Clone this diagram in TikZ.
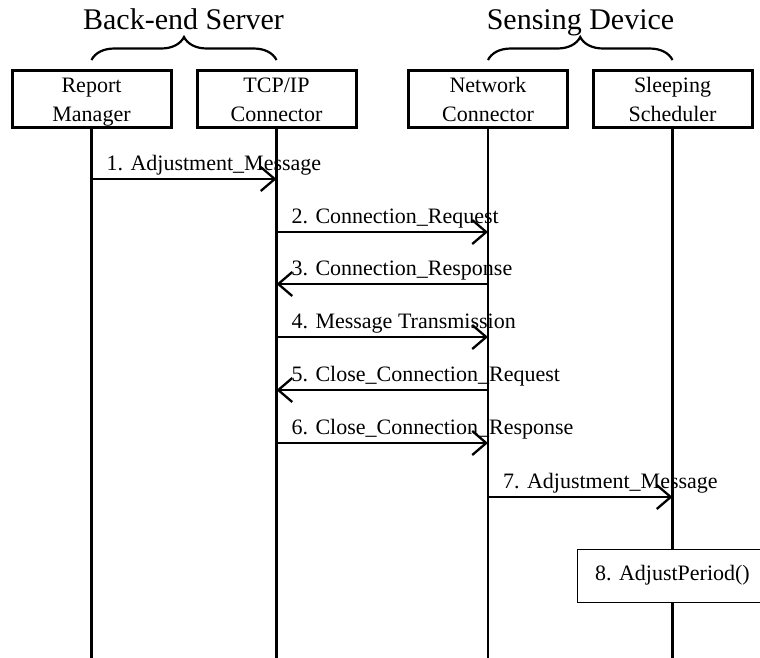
\documentclass[tikz,border=0pt]{standalone}
\usepackage{fontspec}
\setmainfont{Liberation Serif}
\usetikzlibrary{arrows.meta,decorations.pathreplacing,calc}
% fixed line box for the two-line participant names
\newcommand\namestrut{\rule[-6pt]{0pt}{28pt}}
\begin{document}
\begin{tikzpicture}[x=1pt,y=-1pt,
  role/.style={draw,line width=3pt,minimum width=159pt,minimum height=54pt,
    inner sep=0pt,align=center,font=\fontsize{22}{26}\selectfont},
  lifeline/.style={line width=2.6pt},
  msg/.style={line width=2.3pt,-{Straight Barb[length=14pt,width=24pt]}},
  msglabel/.style={anchor=base west,inner sep=0pt,font=\fontsize{22}{26}\selectfont},
  group/.style={line width=2.2pt,decorate,decoration={brace,amplitude=23pt}},
  grouplabel/.style={anchor=base,inner sep=0pt,font=\fontsize{30}{36}\selectfont},
  activity/.style={draw,line width=1pt,fill=white,minimum width=190pt,
    minimum height=53pt,inner sep=0pt,font=\fontsize{22}{26}\selectfont}]
\clip (0,0) rectangle (760,657);

% participants
\node[role] (rm)  at (91.5,99)  {\namestrut Report\\\namestrut Manager};
\node[role] (tcp) at (276.5,99) {\namestrut TCP/IP\\\namestrut Connector};
\node[role] (net) at (488,99)   {\namestrut Network\\\namestrut Connector};
\node[role] (slp) at (672.5,99) {\namestrut Sleeping\\\namestrut Scheduler};

% grouping braces and titles
\draw[group] ([yshift=9pt]rm.north) -- ([yshift=9pt]tcp.north);
\draw[group] ([yshift=9pt]net.north) -- ([yshift=9pt]slp.north);
\node[grouplabel] (server) at (183.5,29) {Back-end Server};
\node[grouplabel] (device) at (580.5,29) {Sensing Device};

% lifelines
\coordinate (bottom) at (0,660);
\foreach \p in {rm,tcp,net,slp}
  \draw[lifeline] (\p.south) -- (\p.south |- bottom);

% message rows
\coordinate (y1) at (0,179);
\coordinate (y2) at (0,232);
\coordinate (y3) at (0,284);
\coordinate (y4) at (0,337);
\coordinate (y5) at (0,390);
\coordinate (y6) at (0,443);
\coordinate (y7) at (0,497);

% messages: row / from / to / left end / text
\foreach \r/\a/\b/\l/\t in {
    y1/rm/tcp/rm/{1. Adjustment\_Message},
    y2/tcp/net/tcp/{2. Connection\_Request},
    y3/net/tcp/tcp/{3. Connection\_Response},
    y4/tcp/net/tcp/{4. Message Transmission},
    y5/net/tcp/tcp/{5. Close\_Connection\_Request},
    y6/tcp/net/tcp/{6. Close\_Connection\_Response},
    y7/net/slp/net/{7. Adjustment\_Message}} {
  \draw[msg] (\a.south |- \r) -- (\b.south |- \r);
  \node[msglabel] at ($(\l.south |- \r)+(15,-9)$) {\t};
}

% self activity on the scheduler
\node[activity] (adjust) at (slp.south |- 0,575.5) {8. AdjustPeriod()};
\end{tikzpicture}
\end{document}
